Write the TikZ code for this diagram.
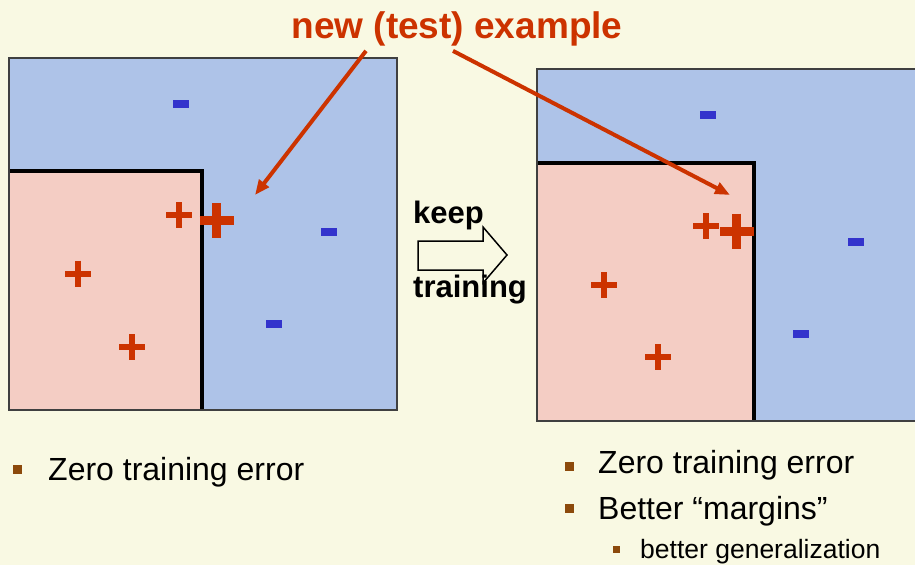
\documentclass[tikz,border=0pt]{standalone}
\usepackage{fontspec}
\setmainfont{Liberation Sans}
\usepackage{tikz}
\usetikzlibrary{arrows.meta}
\usepackage{xcolor}
\definecolor{slidebg}{RGB}{249,249,227}
\definecolor{negzone}{RGB}{174,195,232}
\definecolor{poszone}{RGB}{244,205,196}
\definecolor{posred}{RGB}{204,51,0}
\definecolor{negblue}{RGB}{51,51,204}
\definecolor{bulletbrown}{RGB}{140,74,12}

\tikzset{
  pos/.pic={\draw[posred, line width=6pt] (-13,0) -- (13,0) (0,-13) -- (0,13);},
  bigpos/.pic={\draw[posred, line width=9pt] (-17,0) -- (17,0) (0,-17.5) -- (0,17.5);},
  neg/.pic={\fill[negblue] (-8,-4) rectangle (8,4);},
  panel/.style={draw=black!75, line width=1.5pt},
  boundary/.style={line width=4pt},
  pointer/.style={posred, line width=4pt, -{Triangle[length=15pt,width=12pt]}},
  bigtext/.style={anchor=base west, inner sep=0pt, font=\fontsize{32}{36}\selectfont},
  smalltext/.style={anchor=base west, inner sep=0pt, font=\fontsize{26.5}{30}\selectfont},
  boldtext/.style={anchor=base west, inner sep=0pt, font=\bfseries\fontsize{31}{36}\selectfont},
  bulletsq/.style={fill=bulletbrown}
}

\begin{document}
\begin{tikzpicture}[x=1pt, y=-1pt]
    \fill[slidebg] (0,0) rectangle (915,565);
    \useasboundingbox (0,0) rectangle (915,565);
    \clip (0,0) rectangle (915,565);
    % left panel (before)
    \fill[negzone] (9,58) rectangle (397,410);
    \fill[poszone] (9,171) rectangle (202,410);
    \draw[boundary] (9,171) -| (202,410);
    \draw[panel] (9,58) rectangle (397,410);
    \pic at (179,215) {pos};
    \pic at (216.5,220.5) {bigpos};
    \pic at (78,273.5) {pos};
    \pic at (132,347) {pos};
    \pic at (181,104) {neg};
    \pic at (329,232) {neg};
    \pic at (274,324) {neg};
    % right panel (after)
    \fill[negzone] (537,69) rectangle (925,421);
    \fill[poszone] (537,163) rectangle (754,421);
    \draw[boundary] (537,163) -| (754,421);
    \draw[panel] (537,69) rectangle (925,421);
    \pic at (706,226) {pos};
    \pic at (736.5,231) {bigpos};
    \pic at (604,285) {pos};
    \pic at (658,357) {pos};
    \pic at (708,115) {neg};
    \pic at (856,242) {neg};
    \pic at (801,334) {neg};
    % the test point
    \node[anchor=base, inner sep=0pt, text=posred, font=\bfseries\fontsize{37}{40}\selectfont] (title) at (457,38) {new (test) example};
    \coordinate (tipL) at (255,195);
    \coordinate (tipR) at (730,195);
    \draw[pointer] ([xshift=-91pt,yshift=-5pt]title.south) -- (tipL);
    \draw[pointer] ([xshift=-4pt,yshift=-5pt]title.south) -- (tipR);
    % keep training
    \node[boldtext] (keep) at (413,223) {keep};
    \node[boldtext] (training) at (413,297) {training};
    \draw[line width=1.5pt, line join=miter] (418,241) -- (483,241) -- (483,227) -- (507,255) -- (483,283) -- (483,270) -- (418,270) -- cycle;
    % bullets
    \fill[bulletsq] (13,465) rectangle (22,474);
    \node[bigtext] (leftA) at (48,480) {Zero training error};
    \fill[bulletsq] (565,462) rectangle (574,471);
    \node[bigtext] (rightA) at (598,473) {Zero training error};
    \fill[bulletsq] (565,504) rectangle (574,513);
    \node[bigtext] (rightB) at (598,519) {Better “margins”};
    \fill[bulletsq] (613,546) rectangle (620,553);
    \node[smalltext] (rightC) at (640,558) {better generalization};
\end{tikzpicture}
\end{document}
